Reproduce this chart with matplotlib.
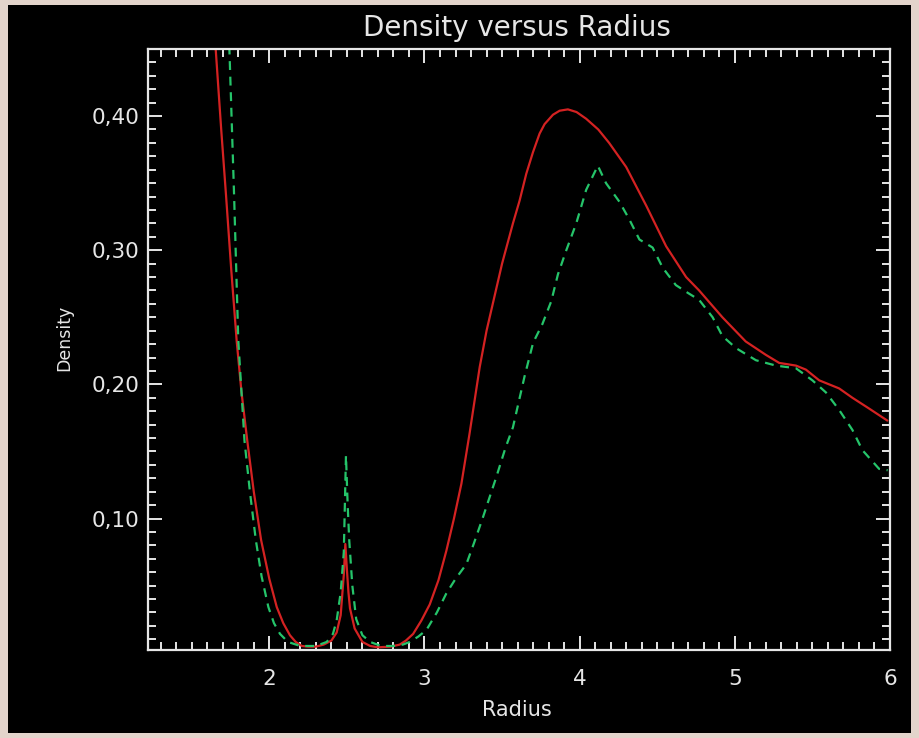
import matplotlib
matplotlib.use("Agg")
import matplotlib.pyplot as plt
from matplotlib.patches import Rectangle
from matplotlib.ticker import MultipleLocator, FixedLocator

# Density profile (solid red)
radius_a = [1.60, 1.655, 1.69, 1.721, 1.755, 1.79, 1.82, 1.858, 1.90, 1.947,
            2.00, 2.048, 2.09, 2.133, 2.17, 2.21, 2.25, 2.30, 2.35, 2.40,
            2.434, 2.46, 2.48, 2.49, 2.50, 2.51, 2.52, 2.55, 2.60, 2.65,
            2.70, 2.78, 2.84, 2.88, 2.927, 2.98, 3.034, 3.09, 3.141, 3.19,
            3.238, 3.29, 3.356, 3.40, 3.45, 3.50, 3.57, 3.613, 3.656, 3.699,
            3.742, 3.774, 3.828, 3.871, 3.924, 3.98, 4.042, 4.12, 4.19, 4.30,
            4.43, 4.557, 4.686, 4.77, 4.92, 5.07, 5.20, 5.286, 5.394, 5.458,
            5.544, 5.672, 5.758, 5.865, 5.983]
density_a = [0.53, 0.449, 0.39, 0.341, 0.285, 0.232, 0.195, 0.158, 0.120, 0.084,
             0.055, 0.034, 0.022, 0.013, 0.008, 0.005, 0.0045, 0.0045, 0.006, 0.009,
             0.015, 0.028, 0.058, 0.081, 0.062, 0.045, 0.033, 0.018, 0.008, 0.005,
             0.004, 0.0045, 0.006, 0.009, 0.014, 0.024, 0.036, 0.054, 0.076, 0.100,
             0.126, 0.163, 0.213, 0.240, 0.265, 0.290, 0.320, 0.337, 0.357, 0.373,
             0.387, 0.394, 0.401, 0.404, 0.405, 0.403, 0.398, 0.390, 0.380, 0.362,
             0.333, 0.303, 0.280, 0.270, 0.250, 0.232, 0.222, 0.216, 0.214, 0.211,
             0.203, 0.197, 0.190, 0.182, 0.173]

# Density profile (dashed green)
radius_b = [1.70, 1.743, 1.773, 1.80, 1.84, 1.875, 1.913, 1.95, 1.994, 2.03,
            2.069, 2.12, 2.20, 2.30, 2.37, 2.41, 2.434, 2.46, 2.48, 2.494,
            2.505, 2.515, 2.535, 2.56, 2.60, 2.65, 2.72, 2.80, 2.86, 2.905,
            2.96, 3.013, 3.08, 3.14, 3.20, 3.27, 3.32, 3.377, 3.463, 3.52,
            3.57, 3.645, 3.70, 3.76, 3.817, 3.86, 3.914, 3.978, 4.042, 4.117,
            4.17, 4.257, 4.32, 4.385, 4.47, 4.535, 4.62, 4.70, 4.77, 4.857,
            4.92, 5.008, 5.136, 5.265, 5.394, 5.50, 5.587, 5.672, 5.758, 5.822,
            5.93, 5.985]
density_b = [0.53, 0.449, 0.341, 0.233, 0.158, 0.120, 0.084, 0.057, 0.034, 0.022,
             0.014, 0.008, 0.005, 0.005, 0.008, 0.014, 0.024, 0.045, 0.075, 0.147,
             0.110, 0.084, 0.050, 0.025, 0.013, 0.008, 0.005, 0.005, 0.006, 0.008,
             0.012, 0.017, 0.030, 0.044, 0.055, 0.066, 0.082, 0.101, 0.131, 0.152,
             0.168, 0.206, 0.231, 0.245, 0.262, 0.282, 0.300, 0.320, 0.345, 0.363,
             0.350, 0.336, 0.323, 0.308, 0.302, 0.287, 0.274, 0.268, 0.263, 0.250,
             0.236, 0.227, 0.218, 0.214, 0.212, 0.203, 0.194, 0.181, 0.166, 0.151,
             0.137, 0.136]

x_major = [2, 3, 4, 5, 6]
x_labels = ["2", "3", "4", "5", "6"]
y_major = [0.10, 0.20, 0.30, 0.40]
y_labels = ["0,10", "0,20", "0,30", "0,40"]

W, H = 919, 738
fig = plt.figure(figsize=(W / 100, H / 100), dpi=100)
fig.patch.set_facecolor("#e3d4cb")
frame = Rectangle((8 / W, 1 - 733 / H), (911 - 8) / W, (733 - 5) / H,
                  transform=fig.transFigure, facecolor="black",
                  edgecolor="none", zorder=-10)
fig.add_artist(frame)

ax = fig.add_axes([147.5 / W, 1 - 650 / H, (890 - 147.5) / W, (650 - 49) / H])
ax.set_zorder(5)
ax.set_facecolor("black")
fg = "#e6e6e6"

ax.plot(radius_a, density_a, color="#d42222", lw=1.6,
        solid_joinstyle="round", solid_capstyle="round")
gl, = ax.plot(radius_b, density_b, color="#25c46a", lw=1.6)
gl.set_dashes((4, 3))

ax.set_xlim(1.215, 6.0)
ax.set_ylim(0.002, 0.45)

ax.xaxis.set_major_locator(FixedLocator(x_major))
ax.set_xticklabels(x_labels)
ax.xaxis.set_minor_locator(MultipleLocator(0.1))
ax.yaxis.set_major_locator(FixedLocator(y_major))
ax.set_yticklabels(y_labels)
ax.yaxis.set_minor_locator(MultipleLocator(0.01))

for s in ax.spines.values():
    s.set_color(fg)
    s.set_linewidth(1.6)

ax.tick_params(which="both", direction="in", colors=fg, top=True, right=True,
               width=1.4)
ax.tick_params(which="major", length=10)
ax.tick_params(which="minor", length=5.5)
ax.tick_params(axis="x", which="major", pad=14, labelsize=15.5)
ax.tick_params(axis="y", which="major", pad=6, labelsize=15.5)
for lab in ax.get_xticklabels() + ax.get_yticklabels():
    lab.set_color(fg)

fig.text(517 / W, 1 - 28 / H, "Density versus Radius", color=fg, fontsize=20,
         ha="center", va="center", zorder=6)
fig.text(517 / W, 1 - 710 / H, "Radius", color=fg, fontsize=15,
         ha="center", va="center", zorder=6)
fig.text(64 / W, 1 - 338 / H, "Density", color=fg, fontsize=12.5,
         ha="center", va="center", rotation=90, zorder=6)

fig.savefig("out.png", dpi=100, facecolor=fig.get_facecolor())
